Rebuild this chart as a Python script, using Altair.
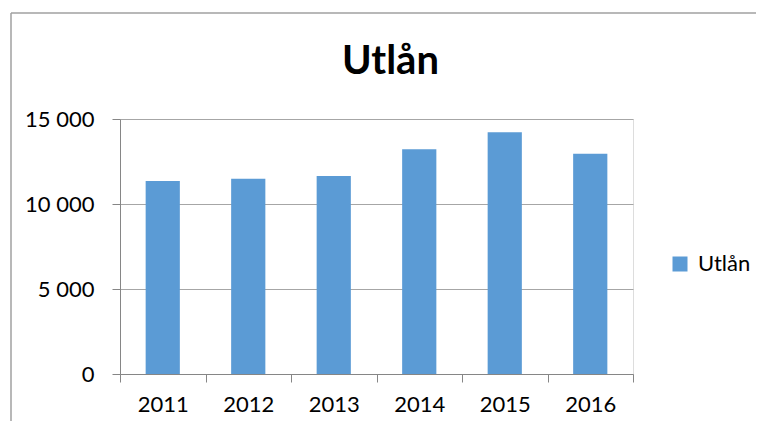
import altair as alt
import pandas as pd

years = ["2011", "2012", "2013", "2014", "2015", "2016"]
utlan = [11350, 11480, 11650, 13220, 14220, 12960]
series_name = "Utlån"
title_text = "Utlån"
y_ticks = [0, 5000, 10000, 15000]

df = pd.DataFrame({"year": years, "value": utlan, "series": [series_name] * len(years)})
one_df = pd.DataFrame({"k": [0]})

FONT = "Lato"
AXIS_COL = "#868686"
GRID_COL = "#A6A6A6"
BAR_COL = "#5B9BD5"

bars = alt.Chart(df).mark_bar(color=BAR_COL, width=alt.RelativeBandSize(0.4)).encode(
    x=alt.X(
        "year:N",
        sort=years,
        scale=alt.Scale(paddingInner=0, paddingOuter=0),
        axis=alt.Axis(
            title=None,
            labelAngle=0,
            tickBand="extent",
            tickSize=8,
            tickColor=AXIS_COL,
            domainColor=AXIS_COL,
            labelFont=FONT,
            labelFontSize=22,
            labelColor="#000000",
            labelPadding=12,
            grid=False,
        ),
    ),
    y=alt.Y(
        "value:Q",
        scale=alt.Scale(domain=[0, 15000], nice=False),
        axis=alt.Axis(
            title=None,
            values=y_ticks,
            tickSize=8,
            tickColor=AXIS_COL,
            domainColor=AXIS_COL,
            gridColor=GRID_COL,
            labelFont=FONT,
            labelFontSize=22,
            labelColor="#000000",
            labelPadding=18,
            labelExpr="replace(format(datum.value, ','), ',', ' ')",
        ),
    ),
    fill=alt.Fill(
        "series:N",
        scale=alt.Scale(domain=[series_name], range=[BAR_COL]),
        legend=alt.Legend(
            title=None,
            orient="none",
            legendX=549,
            legendY=134,
            symbolType="square",
            symbolSize=225,
            symbolStrokeWidth=0,
            labelFont=FONT,
            labelFontSize=22,
            labelColor="#000000",
            labelOffset=7,
        ),
    ),
)

frame_left = alt.Chart(one_df).mark_rule(color="#A0A0A0", strokeWidth=1.5).encode(
    x=alt.value(-109), y=alt.value(-106), y2=alt.value(330)
)
frame_top = alt.Chart(one_df).mark_rule(color="#A0A0A0", strokeWidth=1.5).encode(
    y=alt.value(-106), x=alt.value(-109), x2=alt.value(700)
)
title_mark = alt.Chart(one_df).mark_text(
    font=FONT, fontSize=40, fontWeight="bold", color="#000000",
    align="center", baseline="alphabetic",
).encode(
    x=alt.value(270.5), y=alt.value(-45), text=alt.value(title_text)
)

chart = (
    alt.layer(frame_left, frame_top, title_mark, bars)
    .properties(
        width=513,
        height=255,
        autosize=alt.AutoSizeParams(type="none"),
        padding={"left": 112, "top": 111, "right": 123, "bottom": 47},
    )
    .configure_view(stroke=None)
    .configure(background="white")
)

chart.save("out.html", embed_options={"renderer": "svg", "actions": False})
